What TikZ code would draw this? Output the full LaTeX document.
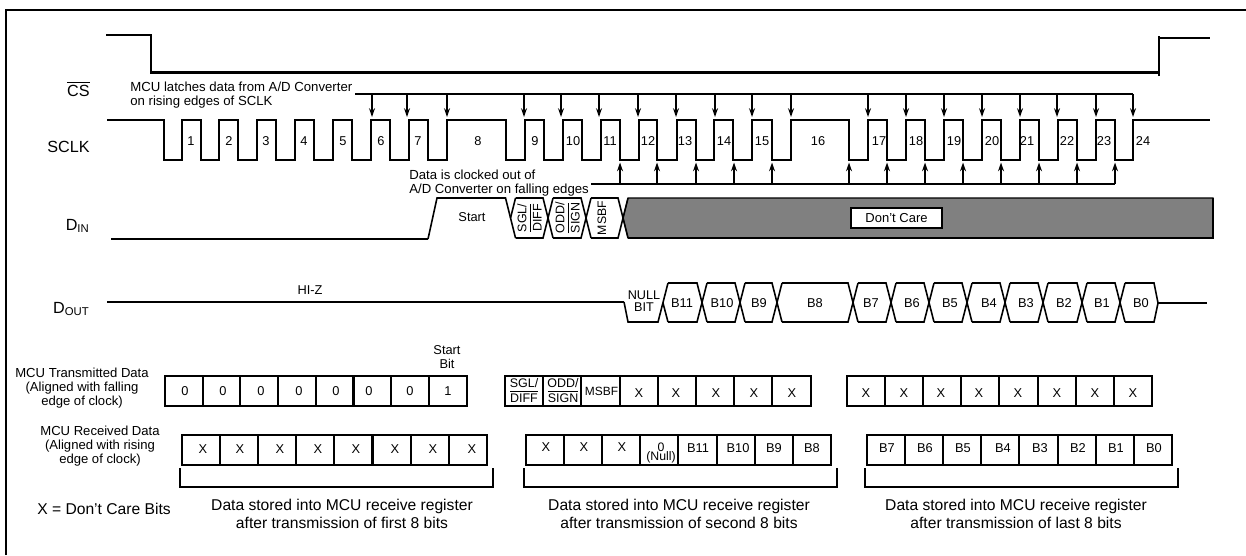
\documentclass[tikz,border=0pt]{standalone}
\usepackage{fontspec}
\setmainfont{Liberation Sans}
\usepackage{tikz}
\usetikzlibrary{arrows.meta, positioning}
\tikzset{
  wave/.style={line width=1.15pt, line join=miter},
  frame/.style={line width=1.15pt},
  latch/.style={line width=0.95pt, -{Stealth[length=5pt, width=3.4pt]}},
  signal/.style={inner sep=0pt, font=\fontsize{9.2}{11}\selectfont},
  note/.style={inner sep=0pt, align=left, anchor=west, font=\fontsize{7.5}{7.9}\selectfont},
  caption/.style={inner sep=0pt, align=center, font=\fontsize{8.9}{10.4}\selectfont},
  rowlabel/.style={inner sep=0pt, align=center, font=\fontsize{7.45}{7.9}\selectfont},
  bit/.style={inner sep=0pt, align=center, font=\fontsize{7.3}{7.6}\selectfont}
}

\begin{document}
\begin{tikzpicture}[x=0.02cm, y=-0.02cm]
  \useasboundingbox (0,0) rectangle (1246,555);

  % Outer border
  \draw[frame] (6,555) -- (6,10) -- (1246,10);

  % Signal names
  \node[signal, anchor=east] (CS)   at (90,89)  {$\overline{\mbox{CS}}$};
  \node[signal, anchor=east] (SCLK) at (90,147) {SCLK};
  \node[signal, anchor=east] (DIN)  at (90,226) {D\textsubscript{IN}};
  \node[signal, anchor=east] (DOUT) at (90,309) {D\textsubscript{OUT}};

  % Chip select
  \draw[wave] (106,35) -| (151,72.5) -- (1159,72.5);
  \draw[wave] (1159,76) -- (1159,36);
  \draw[wave] (1159,38) -- (1210,38);

  % Clock
  \draw[wave] (107,120) -| (164,160) -| (182,120) -| (201,160) -| (219,120)
    -| (238,160) -| (257,120) -| (276,160) -| (295,120) -| (314,160) -| (333,120)
    -| (352,160) -| (371,120) -| (390,160) -| (409,120) -| (428,160) -| (447,120)
    -| (506,160) -| (525,120) -| (544,160) -| (563,120) -| (582,160) -| (601,120)
    -| (620,160) -| (639,120) -| (657,160) -| (677,120) -| (696,160) -| (714,120)
    -| (733,160) -| (752,120) -| (772,160) -| (791,120) -| (849,160) -| (868,120)
    -| (887,160) -| (906,120) -| (925,160) -| (944,120) -| (963,160) -| (982,120)
    -| (1001,160) -| (1020,120) -| (1039,160) -| (1058,120) -| (1077,160) -| (1096,120)
    -| (1115,160) -| (1133,120) -- (1210,120);

  % Clock numbers
  \foreach \x/\n in {191/1,229/2,266/3,304/4,343/5,381/6,418/7,478/8,535/9,573/10,
      610/11,648/12,685/13,724/14,762/15,818/16,879/17,916/18,954/19,992/20,
      1027/21,1067/22,1104/23,1143/24}
    \node[bit] (clk\n) at (\x,141) {\n};

  % Rising edge marks
  \node[note] (latchnote) at (130,95.5) {MCU latches data from A/D Converter\\on rising edges of SCLK};
  \draw[wave] (355,94) -- (1133,94);
  \foreach \x in {372,407,447,524,561,599,638,676,715,752,791,868,906,944,982,1020,1057,1096,1133}
    \draw[latch] (\x,94) -- (\x,117);

  % Falling edge marks
  \node[note] (clocknote) at (409,183) {Data is clocked out of\\A/D Converter on falling edges};
  \draw[wave] (591,184) -- (1115,184);
  \foreach \x in {620,657,696,734,772,849,887,925,963,1001,1039,1077,1115}
    \draw[latch] (\x,184) -- (\x,162.5);

  % D_IN
  \draw[fill=black!50, line width=0.6pt] (623,218) -- (628,198) -- (1213,198) -- (1213,238) -- (628,238) -- cycle;
  \draw[wave] (628,238) -- (1213,238) -- (1213,198);
  \draw[wave] (111,239) -- (428,239);
  \draw[wave, line width=0.9pt] (428,239) -- (437,198) -- (505.5,198) -- (515.5,238);
  \draw[wave, line width=0.9pt] (510.5,218) -- (515.5,198);
  \foreach \xa/\xb in {510.5/548,548/586,586/623}{
    \draw[wave, line width=0.9pt] (\xa+5,198) -- (\xb-5,198) -- (\xb+5,238);
    \draw[wave, line width=0.9pt] (\xa+5,238) -- (\xb-5,238) -- (\xb+5,198);
  }
  \node[bit] (start) at (472,217) {Start};
  \node[bit, rotate=90, font=\fontsize{7.1}{8.6}\selectfont] (sgl) at (529.5,218) {SGL/\\$\overline{\mbox{DIFF}}$};
  \node[bit, rotate=90, font=\fontsize{7.1}{8.6}\selectfont] (odd) at (567.5,218) {ODD/\\$\overline{\mbox{SIGN}}$};
  \node[bit, rotate=90, font=\fontsize{7}{8.6}\selectfont] (msbf) at (602,218) {MSBF};
  \node[draw, line width=1.15pt, fill=white, inner sep=0pt, minimum width=51.5pt, minimum height=11.3pt,
        font=\fontsize{7.4}{8}\selectfont] (dontcare) at (896.5,218) {Don't Care};

  % D_OUT
  \draw[wave] (107,302) -- (624,302);
  \draw[wave, line width=0.9pt] (624,302) -- (628,322) -- (658,322) -- (668,283);
  \draw[wave, line width=0.9pt] (663,303) -- (668,322);
  \foreach \xa/\xb in {663/702,702/740,740/777,777/853,853/891,891/929,929/967,967/1005,1005/1043,1043/1082,1082/1120}{
    \draw[wave, line width=0.9pt] (\xa+5,283) -- (\xb-5,283) -- (\xb+5,322);
    \draw[wave, line width=0.9pt] (\xa+5,322) -- (\xb-5,322) -- (\xb+5,283);
  }
  \draw[wave, line width=0.9pt] (1125,283) -- (1154,283) -- (1158,303) -- (1154,322) -- (1125,322);
  \draw[wave] (1158,303) -- (1207,303);
  \node[bit] (hiz) at (310,290) {HI-Z};
  \node[bit, font=\fontsize{7.2}{6.9}\selectfont] (nullbit) at (644,301) {NULL\\BIT};
  \foreach \x/\t in {682/B11,722/B10,759/B9,815/B8,871/B7,912/B6,950/B5,989/B4,1026/B3,1064/B2,1102/B1,1141/B0}
    \node[bit] (out\t) at (\x,303) {\t};

  % Register rows
  \foreach \xa/\ya/\cw in {165/376/37.7,182/435/38.1,505/376/38.2,526/435/38.1,847/376/38.1,867/435/38.1}{
    \draw[frame] (\xa,\ya) rectangle (\xa+8*\cw,\ya+30);
    \foreach \i in {1,...,7}
      \draw[frame] (\xa+\i*\cw,\ya) -- (\xa+\i*\cw,\ya+30);
  }

  % Brackets
  \foreach \xa/\xb in {180/493,524/837,865/1178}
    \draw[frame] (\xa,468) |- (\xb,486.5) -- (\xb,468);

  % First 8 bits
  \node[bit] (startbit) at (447,357) {Start\\Bit};
  \foreach \x/\t [count=\i] in {185/0,223/0,261/0,299/0,336/0,369/0,410/0,448/1}
    \node[bit] (tx\i) at (\x,391) {\t};
  \foreach \x [count=\i] in {203,240,280,318,356,395,433,472}
    \node[bit] (rx\i) at (\x,449) {X};

  % Second 8 bits
  \node[bit, font=\fontsize{7.1}{8.8}\selectfont] (sglcell) at (524,390.5) {SGL/\\$\overline{\mbox{DIFF}}$};
  \node[bit, font=\fontsize{7.1}{8.8}\selectfont] (oddcell) at (563,390.5) {ODD/\\$\overline{\mbox{SIGN}}$};
  \node[bit, font=\fontsize{6.8}{8}\selectfont] (msbfcell) at (601.5,391) {MSBF};
  \foreach \x [count=\i] in {639,676,716,754,792}
    \node[bit] (txb\i) at (\x,393) {X};
  \foreach \x [count=\i] in {546,584,622}
    \node[bit] (rxb\i) at (\x,447) {X};
  \node[bit, font=\fontsize{7}{5.6}\selectfont] (nullcell) at (661,453) {0\\(Null)};
  \foreach \x/\t in {698/B11,738/B10,774/B9,812/B8}
    \node[bit] (rxb\t) at (\x,448) {\t};

  % Last 8 bits
  \foreach \x [count=\i] in {866,904,941,979,1018,1057,1095,1133}
    \node[bit] (txc\i) at (\x,393) {X};
  \foreach \x/\t in {887/B7,925/B6,963/B5,1003/B4,1040/B3,1078/B2,1116/B1,1154/B0}
    \node[bit] (rxc\t) at (\x,448) {\t};

  % Row labels and captions
  \node[rowlabel] (txlabel) at (82,388) {MCU Transmitted Data\\(Aligned with falling\\edge of clock)};
  \node[rowlabel] (rxlabel) at (100,446) {MCU Received Data\\(Aligned with rising\\edge of clock)};
  \node[caption] (legend) at (104,509) {X = Don't Care Bits};
  \node[caption] (firstcap)  at (342,514) {Data stored into MCU receive register\\after transmission of first 8 bits};
  \node[caption] (secondcap) at (679,514) {Data stored into MCU receive register\\after transmission of second 8 bits};
  \node[caption] (lastcap)   at (1016,514) {Data stored into MCU receive register\\after transmission of last 8 bits};
\end{tikzpicture}
\end{document}
